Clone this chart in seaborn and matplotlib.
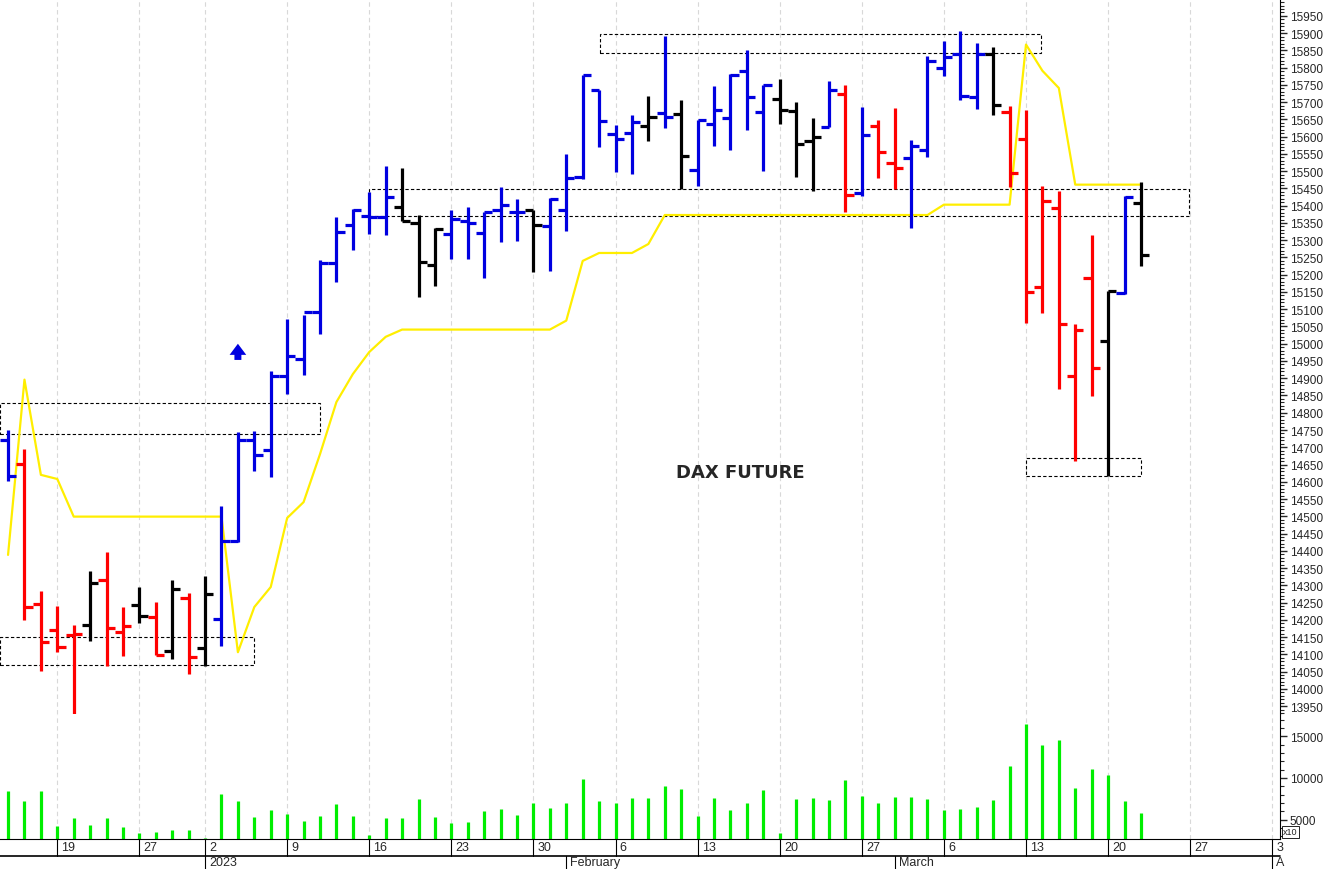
import matplotlib
matplotlib.use("Agg")
import matplotlib.pyplot as plt
import matplotlib.transforms as mtransforms
from matplotlib.patches import Rectangle
from matplotlib.ticker import MultipleLocator
import numpy as np
import pandas as pd
import seaborn as sns

sns.set_style("white")
plt.rcParams['font.family'] = ['Liberation Sans', 'DejaVu Sans']

# daily bars, Dec 14 2022 .. Mar 22 2023 (trading days only)
opens = [14722, 14651, 14246, 14169, 14156, 14185, 14316, 14164, 14243, 14209,
         14109, 14264, 14117, 14202, 14428, 14721, 14692, 14907, 14956, 15091,
         15233, 15344, 15369, 15366, 15397, 15350, 15228, 15318, 15357, 15320,
         15388, 15383, 15388, 15340, 15388, 15482, 15736, 15608, 15610, 15630,
         15668, 15666, 15504, 15637, 15653, 15789, 15671, 15709, 15675, 15587,
         15627, 15724, 15437, 15630, 15524, 15538, 15562, 15798, 15840, 15714,
         15840, 15671, 15593, 15164, 15393, 14906, 15191, 15007, 15147, 15408]
highs = [14751, 14695, 14284, 14241, 14186, 14340, 14397, 14238, 14296, 14253,
         14316, 14277, 14328, 14529, 14743, 14746, 14922, 15072, 15084, 15243,
         15368, 15391, 15441, 15514, 15509, 15373, 15335, 15388, 15396, 15381,
         15455, 15420, 15388, 15422, 15550, 15779, 15736, 15634, 15664, 15719,
         15891, 15707, 15649, 15746, 15782, 15852, 15751, 15767, 15700, 15654,
         15762, 15751, 15687, 15649, 15683, 15589, 15835, 15878, 15906, 15871,
         15861, 15690, 15676, 15458, 15442, 15057, 15316, 15154, 15429, 15468]
lows = [14603, 14200, 14052, 14107, 13927, 14139, 14067, 14096, 14191, 14098,
        14086, 14043, 14067, 14125, 14426, 14630, 14614, 14854, 14909, 15028,
        15178, 15272, 15318, 15315, 15357, 15135, 15168, 15246, 15246, 15191,
        15294, 15299, 15207, 15212, 15328, 15478, 15571, 15497, 15492, 15587,
        15625, 15449, 15456, 15572, 15562, 15620, 15500, 15637, 15484, 15444,
        15627, 15383, 15429, 15480, 15447, 15335, 15540, 15775, 15707, 15680,
        15663, 15453, 15060, 15089, 14869, 14661, 14849, 14618, 15144, 15226]
closes = [14616, 14236, 14137, 14121, 14158, 14307, 14176, 14183, 14210, 14098,
          14289, 14093, 14274, 14428, 14721, 14678, 14907, 14964, 15093, 15233,
          15325, 15388, 15366, 15424, 15357, 15236, 15333, 15362, 15350, 15381,
          15403, 15383, 15344, 15420, 15480, 15779, 15645, 15593, 15642, 15656,
          15656, 15543, 15649, 15676, 15779, 15714, 15750, 15678, 15579, 15600,
          15736, 15431, 15605, 15557, 15509, 15572, 15820, 15830, 15719, 15840,
          15693, 15495, 15151, 15415, 15057, 15040, 14929, 15154, 15424, 15257]
colors = ['b', 'r', 'r', 'r', 'r', 'k', 'r', 'r', 'k', 'r',
          'k', 'r', 'k', 'b', 'b', 'b', 'b', 'b', 'b', 'b',
          'b', 'b', 'b', 'b', 'k', 'k', 'k', 'b', 'b', 'b',
          'b', 'b', 'k', 'b', 'b', 'b', 'b', 'b', 'b', 'k',
          'b', 'k', 'b', 'b', 'b', 'b', 'b', 'k', 'k', 'k',
          'b', 'r', 'b', 'r', 'r', 'b', 'b', 'b', 'b', 'b',
          'k', 'r', 'r', 'r', 'r', 'r', 'r', 'k', 'b', 'k']
stop_line = [14388, 14896, 14620, 14608, 14499, 14499, 14499, 14499, 14499, 14499,
             14499, 14499, 14499, 14499, 14106, 14237, 14295, 14495, 14541, 14680,
             14831, 14912, 14976, 15020, 15041, 15041, 15041, 15041, 15041, 15041,
             15041, 15041, 15041, 15041, 15067, 15240, 15263, 15263, 15263, 15289,
             15373, 15373, 15373, 15373, 15373, 15373, 15373, 15373, 15373, 15373,
             15373, 15373, 15373, 15373, 15373, 15373, 15373, 15403, 15403, 15403,
             15403, 15403, 15867, 15791, 15741, 15461, 15461, 15461, 15461, 15461]
volume = [8393, 7266, 8393, 4196, 5228, 4316, 5192, 4148, 3357, 3477,
          3789, 3789, 2794, 8033, 7266, 5276, 6115, 5671, 4796, 5396,
          6834, 5396, 3189, 5228, 5228, 7506, 5276, 4592, 4712, 5995,
          6235, 5515, 6954, 6427, 7026, 9832, 7266, 7026, 7590, 7590,
          9029, 8633, 5396, 7554, 6115, 7026, 8513, 3429, 7470, 7554,
          7386, 9712, 7830, 6954, 7710, 7710, 7506, 6115, 6235, 6475,
          7386, 11427, 16427, 13981, 14544, 8753, 11067, 10311, 7266, 5755]

# support / resistance zones: (start bar, end bar, low, high)
zone_start = [-0.5, -0.5, 36.05, 21.98, 62.0]
zone_end = [19.0, 14.98, 62.9, 71.9, 68.98]
zone_low = [14738, 14069, 15843, 15371, 14616]
zone_high = [14828, 14150, 15898, 15449, 14668]

week_pos = [3, 8, 12, 17, 22, 27, 32, 37, 42, 47, 52, 57, 62, 67, 72, 77]
week_lbl = ['19', '27', '2', '9', '16', '23', '30', '6', '13', '20', '27', '6', '13', '20', '27', '3']
month_pos = [12, 34, 54, 77]
month_lbl = ['2023', 'February', 'March', 'A']

BLUE, RED, BLACK = '#0000e0', '#ff0000', '#000000'
cmap = {'b': BLUE, 'r': RED, 'k': BLACK}

df = pd.DataFrame({'x': np.arange(len(opens)), 'open': opens, 'high': highs,
                   'low': lows, 'close': closes, 'c': colors,
                   'stop': stop_line, 'vol': volume})

W, H = 1328, 870
fig = plt.figure(figsize=(W / 100, H / 100), dpi=100)
right = 1280 / W
ax = fig.add_axes([0, (H - 715) / H, right, 715 / H])
axv = fig.add_axes([0, (H - 840) / H, right, 125 / H])
xlim = (-0.49, 77.47)

for a in (ax, axv):
    a.set_xlim(*xlim)
    for s in ('left', 'top', 'bottom'):
        a.spines[s].set_visible(False)
    a.spines['right'].set_color('black')
    a.yaxis.tick_right()
    a.tick_params(axis='y', which='major', length=5, width=1, labelsize=8.5, pad=2)
    a.tick_params(axis='y', which='minor', length=3, width=0.8)
    a.set_xticks([])
    for p in week_pos:
        a.axvline(p, color='#d8d8d8', lw=0.8, ls=(0, (4, 3)), zorder=0)

ax.set_ylim(13927, 15999)
ax.yaxis.set_major_locator(MultipleLocator(50))
ax.yaxis.set_minor_locator(MultipleLocator(10))
ax.set_yticks(np.arange(13950, 16000, 50))

axv.set_ylim(2674, 17662)
axv.set_yticks([5000, 10000, 15000])
axv.yaxis.set_minor_locator(MultipleLocator(1000))
axv.spines['bottom'].set_visible(True)
axv.spines['bottom'].set_color('black')

# zones
for x0, x1, lo, hi in zip(zone_start, zone_end, zone_low, zone_high):
    ax.add_patch(Rectangle((x0, lo), x1 - x0, hi - lo, fill=False, ec='black',
                           lw=0.8, ls=(0, (3, 2)), zorder=1))

# stop line
sns.lineplot(data=df, x='x', y='stop', ax=ax, color='#ffee00', lw=1.6, zorder=2,
             legend=False)
ax.set_xlabel('')
ax.set_ylabel('')

# OHLC bars
tk = 0.5
for _, r in df.iterrows():
    c = cmap[r['c']]
    ax.vlines(r['x'], r['low'], r['high'], color=c, lw=2.3, zorder=3)
    ax.hlines(r['open'], r['x'] - tk, r['x'], color=c, lw=2.3, zorder=3)
    ax.hlines(r['close'], r['x'], r['x'] + tk, color=c, lw=2.3, zorder=3)

ax.text(44.6, 14628, 'DAX FUTURE', ha='center', va='center', fontsize=13,
        fontweight='bold', family=['DejaVu Sans'])
ax.annotate('', xy=(14, 15008), xytext=(14, 14945),
            arrowprops=dict(arrowstyle='simple,head_width=1.2,head_length=0.8,tail_width=0.5',
                            color=BLUE, lw=0))

# volume
axv.vlines(df['x'], 0, df['vol'], color='#00ee00', lw=2.3)
axv.set_xlabel('')
axv.set_ylabel('')

# date axis below
tr = mtransforms.blended_transform_factory(axv.transData, fig.transFigure)
y_axis = (H - 840) / H
y_mid = (H - 856.5) / H
fig.add_artist(plt.Line2D([0, right], [y_mid, y_mid], color='black', lw=1.2,
                          transform=fig.transFigure))
for p, lbl in zip(week_pos, week_lbl):
    axv.add_artist(plt.Line2D([p, p], [y_mid, y_axis], color='black', lw=0.8,
                              transform=tr, clip_on=False))
    axv.text(p + 0.25, (y_axis + y_mid) / 2, lbl, transform=tr, ha='left',
             va='center', fontsize=9, clip_on=False)
for p, lbl in zip(month_pos, month_lbl):
    axv.add_artist(plt.Line2D([p, p], [0, y_mid], color='black', lw=0.8,
                              transform=tr, clip_on=False))
    axv.text(p + 0.25, y_mid / 2, lbl, transform=tr, ha='left', va='center',
             fontsize=9, clip_on=False)

fig.text(1283 / W, (H - 833) / H, 'x10', fontsize=6.5, va='center', ha='left',
         bbox=dict(boxstyle='square,pad=0.15', fc='white', ec='black', lw=0.6))

fig.savefig('out.png', dpi=100, facecolor='white')
